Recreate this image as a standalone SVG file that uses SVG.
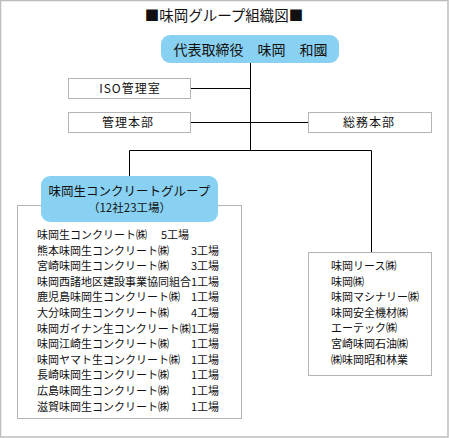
<svg xmlns="http://www.w3.org/2000/svg" width="449" height="438" viewBox="0 0 449 438">
<style>
text{font-family:"Noto Sans CJK JP","Noto Sans",sans-serif;fill:#111}
.box{fill:#fff;stroke:#b4b4b4;stroke-width:1}
.blue{fill:#89d1f2;stroke:none}
.conn{stroke:#000;stroke-width:1;fill:none}
.lbl{font-size:12px;text-anchor:middle;letter-spacing:1px}
.li{font-size:11px}
</style>
<rect x="0.5" y="0.5" width="447.5" height="436.5" fill="#fff" stroke="#bdbdbd" stroke-width="1.5"/>
<text x="224" y="21" font-size="14.5" text-anchor="middle">■味岡グループ組織図■</text>
<g id="connectors">
<path class="conn" d="M250.5 63V150.5M191 88.5H250.5M191 122.5H308M129.5 150.5H371.5M129.5 150.5V176M371.5 150.5V252"/>
</g>
<g id="ceo">
<rect class="blue" x="161" y="35" width="178" height="28" rx="9"/>
<text x="250.5" y="55" font-size="14" text-anchor="middle">代表取締役　味岡　和國</text>
</g>
<g id="iso">
<rect class="box" x="68.5" y="78.5" width="122" height="20"/>
<text class="lbl" x="130" y="93">ISO管理室</text>
</g>
<g id="kanri">
<rect class="box" x="68.5" y="112.5" width="122" height="20"/>
<text class="lbl" x="128" y="127">管理本部</text>
</g>
<g id="soumu">
<rect class="box" x="308.5" y="112.5" width="123" height="20"/>
<text class="lbl" x="369" y="127">総務本部</text>
</g>
<g id="group">
<rect class="box" x="17.5" y="205.5" width="224" height="213"/>
<rect class="blue" x="41" y="176" width="177" height="46" rx="9"/>
<text x="129.5" y="196" font-size="12.5" text-anchor="middle">味岡生コンクリートグループ</text>
<text x="129.5" y="212" font-size="11.5" text-anchor="middle">（12社23工場）</text>
<g class="li">
<text x="37" y="239">味岡生コンクリート㈱<tspan x="161">5工場</tspan></text>
<text x="37" y="254.6">熊本味岡生コンクリート㈱<tspan x="191">3工場</tspan></text>
<text x="37" y="270.2">宮崎味岡生コンクリート㈱<tspan x="191">3工場</tspan></text>
<text x="37" y="285.8">味岡西諸地区建設事業協同組合<tspan x="191">1工場</tspan></text>
<text x="37" y="301.4">鹿児島味岡生コンクリート㈱<tspan x="191">1工場</tspan></text>
<text x="37" y="317">大分味岡生コンクリート㈱<tspan x="191">4工場</tspan></text>
<text x="37" y="332.6">味岡ガイナン生コンクリート㈱<tspan x="191">1工場</tspan></text>
<text x="37" y="348.2">味岡江崎生コンクリート㈱<tspan x="191">1工場</tspan></text>
<text x="37" y="363.8">味岡ヤマト生コンクリート㈱<tspan x="191">1工場</tspan></text>
<text x="37" y="379.4">長崎味岡生コンクリート㈱<tspan x="191">1工場</tspan></text>
<text x="37" y="395">広島味岡生コンクリート㈱<tspan x="191">1工場</tspan></text>
<text x="37" y="410.6">滋賀味岡生コンクリート㈱<tspan x="191">1工場</tspan></text>
</g>
</g>
<g id="others">
<rect class="box" x="308.5" y="252.5" width="123" height="123"/>
<g class="li">
<text x="331" y="270">味岡リース㈱</text>
<text x="331" y="285.6">味岡㈱</text>
<text x="331" y="301.2">味岡マシナリー㈱</text>
<text x="331" y="316.8">味岡安全機材㈱</text>
<text x="331" y="332.4">エーテック㈱</text>
<text x="331" y="348">宮崎味岡石油㈱</text>
<text x="331" y="363.6">㈱味岡昭和林業</text>
</g>
</g>
</svg>
